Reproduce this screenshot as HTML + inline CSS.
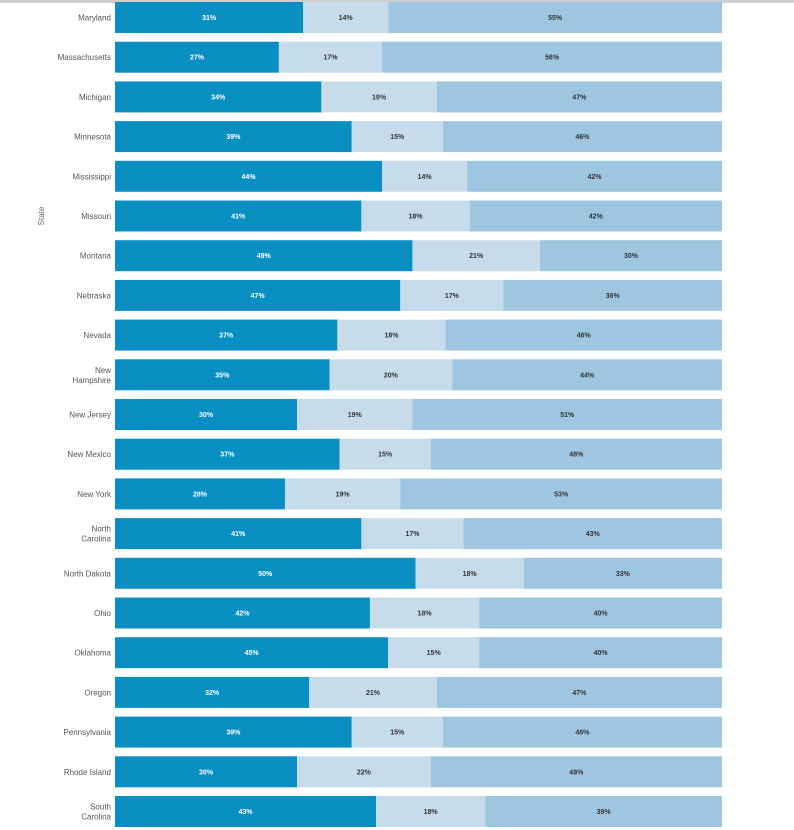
<!DOCTYPE html>
<html><head><meta charset="utf-8">
<style>
html,body{margin:0;padding:0;background:#fff;}
body{width:794px;height:830px;overflow:hidden;position:relative;font-family:"Liberation Sans",sans-serif;}
svg{position:absolute;left:0;top:0;}
</style></head>
<body>
<svg id="chart" width="794" height="830">
<rect x="0" y="0" width="794" height="3" fill="#cfcfcf"></rect>
<text x="44" y="216" transform="rotate(-90 44 216)" text-anchor="middle" font-size="8" fill="#666">State</text>
<g id="bars"></g>
</svg>
<script>
const states = ["Maryland","Massachusetts","Michigan","Minnesota","Mississippi","Missouri","Montana","Nebraska","Nevada","New Hampshire","New Jersey","New Mexico","New York","North Carolina","North Dakota","Ohio","Oklahoma","Oregon","Pennsylvania","Rhode Island","South Carolina"];
const seriesA = [31,27,34,39,44,41,49,47,37,35,30,37,28,41,50,42,45,32,39,30,43];
const seriesB = [14,17,19,15,14,18,21,17,18,20,19,15,19,17,18,18,15,21,15,22,18];
const seriesC = [55,56,47,46,42,42,30,36,46,44,51,48,53,43,33,40,40,47,46,48,39];
const colors = ["#0a8fc2","#c7dceb","#9fc6e0"];
const X0 = 115, X1 = 722, Y0 = 2, STEP = 39.7, BH = 31;
const g = document.getElementById('bars');
const NS = "http://www.w3.org/2000/svg";
function xScale(frac){ return X0 + frac*(X1-X0); }
function yScale(i){ return Y0 + i*STEP; }
states.forEach((s,i)=>{
  const vals=[seriesA[i],seriesB[i],seriesC[i]];
  const tot=vals[0]+vals[1]+vals[2];
  let cum=0;
  const y=yScale(i);
  vals.forEach((v,k)=>{
    const x1=xScale(cum/tot), x2=xScale((cum+v)/tot);
    const r=document.createElementNS(NS,'rect');
    r.setAttribute('x',x1);r.setAttribute('y',y);r.setAttribute('width',x2-x1);r.setAttribute('height',BH);
    r.setAttribute('fill',colors[k]);
    
    
    g.appendChild(r);
    const t=document.createElementNS(NS,'text');
    t.setAttribute('x',(x1+x2)/2);t.setAttribute('y',y+BH/2+2.5);
    t.setAttribute('text-anchor','middle');t.setAttribute('font-size','7');t.setAttribute('font-weight','bold');
    t.setAttribute('fill',k===0?'#fff':'#333');
    t.textContent=v+'%';
    
    
    g.appendChild(t);
    cum+=v;
  });
  const words=s.split(' ');
  const lines=(s==="New Hampshire"||s==="North Carolina"||s==="South Carolina")?[words[0],words[1]]:[s];
  const lt=document.createElementNS(NS,'text');
  lt.setAttribute('text-anchor','end');lt.setAttribute('font-size','8');lt.setAttribute('fill','#555');
  
  
  lines.forEach((l,j)=>{
    const ts=document.createElementNS(NS,'tspan');
    ts.setAttribute('x',111);
    ts.setAttribute('y',y+BH/2+3+(lines.length===2?(j===0?-5:5):0));
    ts.textContent=l;lt.appendChild(ts);
  });
  g.appendChild(lt);
});
</script>
</body></html>
